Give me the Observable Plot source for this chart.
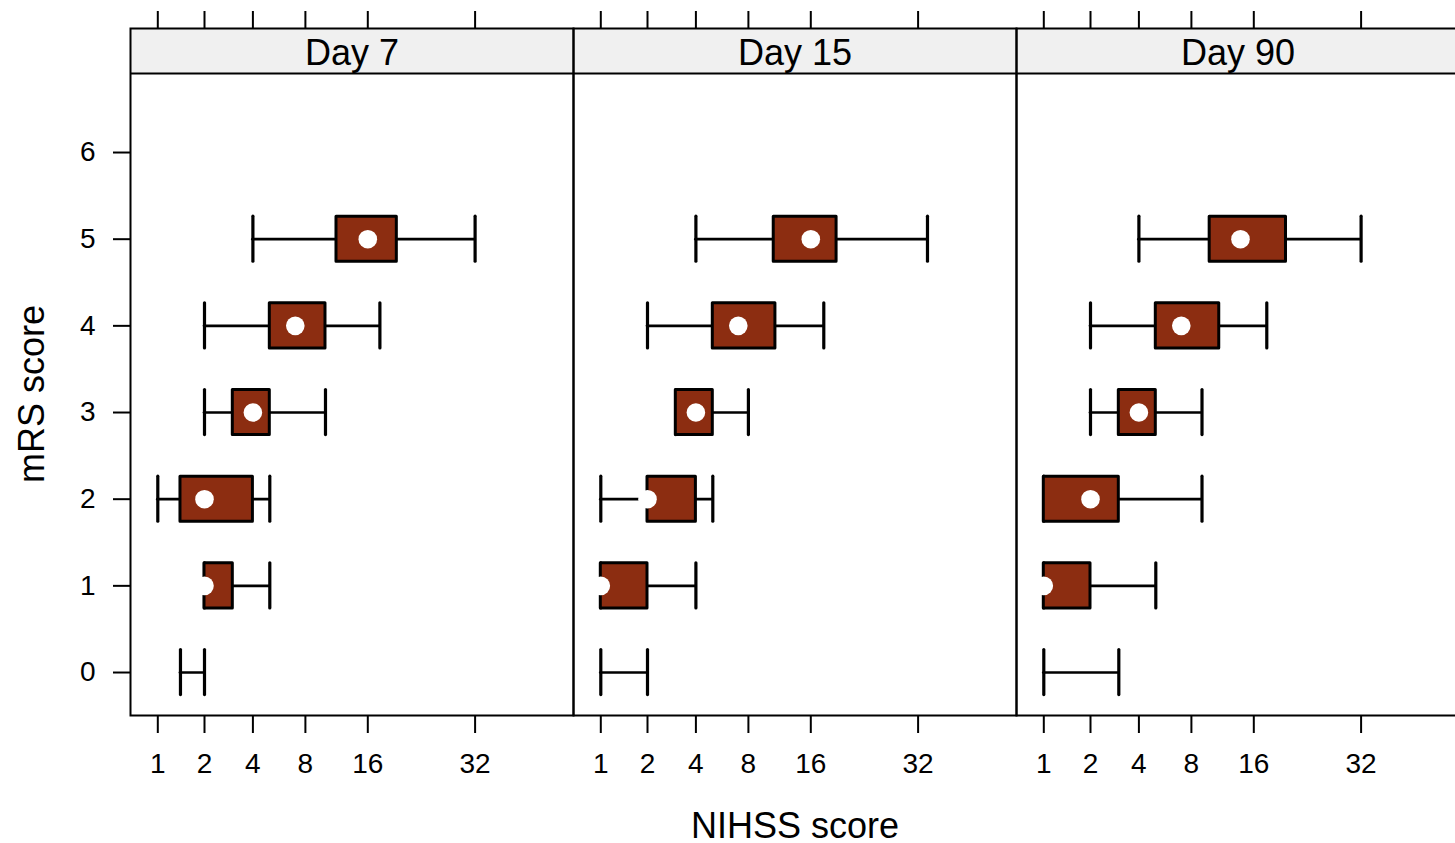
<!DOCTYPE html>
<html>
<head>
<meta charset="utf-8">
<script src="https://cdn.jsdelivr.net/npm/d3@7"></script>
<script src="https://cdn.jsdelivr.net/npm/@observablehq/plot@0.6"></script>
<style>
  html, body { margin: 0; padding: 0; background: #fff; overflow: hidden; }
  #chart { width: 1460px; }
</style>
</head>
<body>
<div id="chart"></div>
<script>
// ---------------- data ----------------
const days = ["Day 7", "Day 15", "Day 90"];
const mrsLevels = [0, 1, 2, 3, 4, 5];
const yTickValues = [0, 1, 2, 3, 4, 5, 6];
const xTickLabels = [1, 2, 4, 8, 16, 32];

// NIHSS score statistics per mRS level (0..5); null = no box drawn
const day7Min    = [1.4, 2,   1,   2, 2,    4];
const day7Q1     = [null, 2,  1.4, 3, 5,    11.3];
const day7Median = [null, 2,  2,   4, 7,    16];
const day7Q3     = [null, 3,  4,   5, 10,   19.3];
const day7Max    = [2,   5,   5,   10, 17.3, 32];

const day15Min    = [1,    1, 1, 3, 2,    4];
const day15Q1     = [null, 1, 2, 3, 5,    10.6];
const day15Median = [null, 1, 2, 4, 7,    16];
const day15Q3     = [null, 2, 4, 5, 10.8, 18.9];
const day15Max    = [2,    4, 5, 8, 17.4, 34];

const day90Min    = [1,    1, 1, 2, 2,    4];
const day90Q1     = [null, 1, 1, 3, 5,    9.8];
const day90Median = [null, 1, 2, 4, 7,    13.8];
const day90Q3     = [null, 2, 3, 5, 10.9, 19.7];
const day90Max    = [3,    5, 9, 9, 17.4, 32];

// ---------------- scale definition ----------------
// The reference NIHSS axis is log-like but with irregular spacing between its labelled ticks;
// this piecewise log warp reproduces that spacing (relative units along the axis).
const xWarpSpacing = [0, 46.7, 95.1, 147.6, 210, 317.3];
const warp = d3.scaleLog().domain(xTickLabels).range(xWarpSpacing);
const xDomain = [-27.3, 415.7];
const yBottom = -0.496, panelTop = 6.911, stripTop = 7.431;
const boxHalf = 0.26;

const statsByDay = {
  "Day 7":  {min: day7Min,  q1: day7Q1,  med: day7Median,  q3: day7Q3,  max: day7Max},
  "Day 15": {min: day15Min, q1: day15Q1, med: day15Median, q3: day15Q3, max: day15Max},
  "Day 90": {min: day90Min, q1: day90Q1, med: day90Median, q3: day90Q3, max: day90Max}
};

const rows = days.flatMap(day => mrsLevels.map((mrs, i) => {
  const s = statsByDay[day];
  return {day, mrs, min: s.min[i], q1: s.q1[i], med: s.med[i], q3: s.q3[i], max: s.max[i]};
}));
const boxRows = rows.filter(r => r.q1 != null);
const whiskers = rows.flatMap(r => {
  if (r.q1 == null) return [{day: r.day, mrs: r.mrs, a: r.min, b: r.max}];
  const out = [];
  if (r.min < r.q1) out.push({day: r.day, mrs: r.mrs, a: r.min, b: r.q1});
  if (r.max > r.q3) out.push({day: r.day, mrs: r.mrs, a: r.q3, b: r.max});
  return out;
});
const caps = rows.flatMap(r => [{day: r.day, mrs: r.mrs, v: r.min}, {day: r.day, mrs: r.mrs, v: r.max}]);

const xTickPos = xTickLabels.map(v => warp(v));
const labelByPos = new Map(xTickPos.map((p, i) => [p, String(xTickLabels[i])]));

const boxFill = "#8C2D11";
const font = "'Liberation Sans', Arial, Helvetica, sans-serif";

const chart = Plot.plot({
  width: 1460,
  height: 843,
  marginLeft: 130,
  marginRight: 1,
  marginTop: 28,
  marginBottom: 128,
  style: {fontFamily: font, fontSize: "28px", color: "black", background: "white", overflow: "visible"},
  fx: {domain: days, padding: 0, axis: null},
  x: {type: "linear", domain: xDomain},
  y: {type: "linear", domain: [yBottom, stripTop]},
  marks: [
    // strips
    Plot.rect(days, {fx: d => d, y1: panelTop, y2: stripTop, fill: "#f0f0f0"}),
    Plot.ruleY(days, {fx: d => d, y: panelTop, stroke: "black", strokeWidth: 2}),
    Plot.text(days, {fx: d => d, text: d => d, y: (panelTop + stripTop) / 2, fontSize: 36, dy: 2, fill: "black"}),
    Plot.frame({stroke: "black", strokeWidth: 2}),
    // axes
    Plot.axisX({anchor: "bottom", ticks: xTickPos, tickFormat: d => labelByPos.get(d), tickSize: 18, tickPadding: 20, strokeWidth: 2, label: null, fontSize: 28}),
    Plot.axisX({anchor: "top", ticks: xTickPos, tickFormat: () => "", tickSize: 18, strokeWidth: 2, label: null}),
    Plot.axisY({anchor: "left", ticks: yTickValues, tickSize: 17, tickPadding: 18, strokeWidth: 2, label: null, fontSize: 28}),
    // whiskers and caps
    Plot.ruleY(whiskers, {fx: "day", y: "mrs", x1: d => warp(d.a), x2: d => warp(d.b), stroke: "black", strokeWidth: 2.7, strokeLinecap: "round"}),
    Plot.ruleX(caps, {fx: "day", x: d => warp(d.v), y1: d => d.mrs - boxHalf, y2: d => d.mrs + boxHalf, stroke: "black", strokeWidth: 3.2, strokeLinecap: "round"}),
    // boxes
    Plot.rect(boxRows, {fx: "day", x1: d => warp(d.q1), x2: d => warp(d.q3), y1: d => d.mrs - boxHalf, y2: d => d.mrs + boxHalf, fill: boxFill, stroke: "black", strokeWidth: 3, strokeLinejoin: "round"}),
    // medians
    Plot.dot(boxRows, {fx: "day", x: d => warp(d.med), y: "mrs", r: 9.3, fill: "white", stroke: null}),
    // axis titles
    Plot.text(["NIHSS score"], {fx: () => "Day 15", frameAnchor: "bottom", dy: 122, fontSize: 36, fill: "black"}),
    Plot.text(["mRS score"], {fx: () => "Day 7", frameAnchor: "left", textAnchor: "middle", dx: -98, dy: 22, rotate: -90, fontSize: 36, fill: "black"})
  ]
});
document.getElementById("chart").append(chart);
</script>
</body>
</html>
